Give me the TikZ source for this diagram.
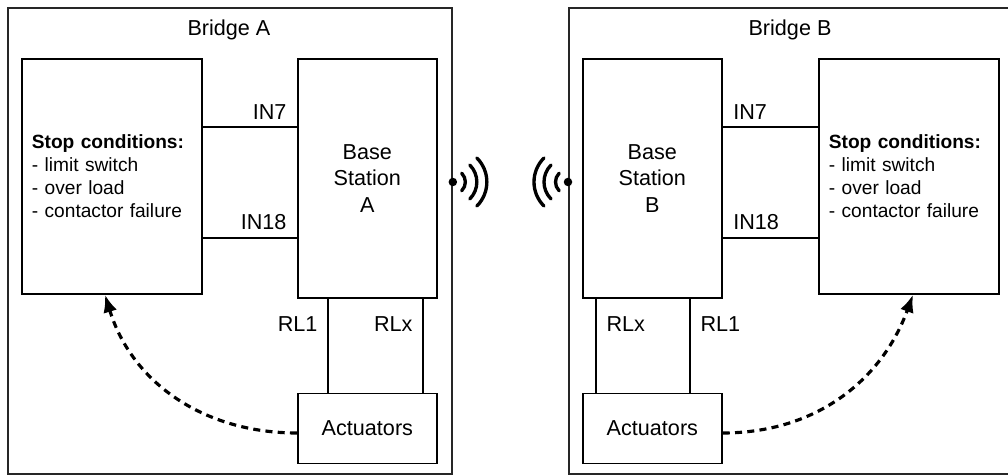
\documentclass[tikz,border=0pt]{standalone}
\usepackage{fontspec}
\setmainfont{Liberation Sans}
\usetikzlibrary{positioning, arrows.meta}
\newcommand{\StopFont}{\fontsize{10.9}{13}\selectfont}
\newcommand{\StopList}{\textbf{Stop conditions:}\\- limit switch\\- over load\\- contactor failure}

\begin{document}
\begin{tikzpicture}[x=0.02cm, y=-0.02cm, font=\fontsize{12.3}{15}\selectfont,
  bridge/.style={draw=black!85, line width=1.1pt, minimum width=8.88cm, minimum height=9.32cm, anchor=north west},
  box/.style={draw, line width=1pt},
  station/.style={box, minimum width=2.78cm, minimum height=4.78cm, align=center, anchor=north west},
  stops/.style={box, minimum width=3.6cm, minimum height=4.7cm, text width=3.2cm, inner xsep=0.2cm, align=left, font=\StopFont, anchor=north west},
  act/.style={box, minimum width=2.78cm, minimum height=1.4cm},
  wire/.style={line width=1pt},
  tag/.style={inner xsep=5.5pt, inner ysep=4pt},
  dot/.style={circle, fill, inner sep=0pt, minimum size=0.17cm},
  wave/.style={line width=1.9pt, line cap=round},
  signal/.style={line width=1.8pt, dash pattern=on 4pt off 3pt, -{Latex[length=10pt, width=8pt]}},
  node distance=1.88cm]
  \useasboundingbox (0,0) rectangle (1008,475);
  \clip (0,0) rectangle (1008,475);

  % rows shared by both bridges
  \coordinate (yIn7) at (0,127);
  \coordinate (yIn18) at (0,238);
  \coordinate (yAnt) at (0,182);
  \coordinate (yDash) at (0,433);

  % bridge A
  \node[bridge] (bridgeA) at (7,7) {};
  \node[anchor=base] (titleA) at (229,36) {Bridge A};
  \node[stops] (stopA) at (21,58) {\StopList};
  \node[station] (baseA) at (297,58) {Base\\Station\\A};
  \node[act, below=of baseA] (actA) {Actuators};

  \draw[wire] (stopA.east |- yIn7) -- node[tag, above left, pos=1] {IN7} (baseA.west |- yIn7);
  \draw[wire] (stopA.east |- yIn18) -- node[tag, above left, pos=1] {IN18} (baseA.west |- yIn18);

  \coordinate (xRL1A) at (328,0);
  \coordinate (xRLxA) at (423,0);
  \draw[wire] (baseA.south -| xRL1A) -- node[tag, left, pos=0.27] {RL1} (actA.north -| xRL1A);
  \draw[wire] (baseA.south -| xRLxA) -- node[tag, left, pos=0.27] {RLx} (actA.north -| xRLxA);

  \coordinate (xTipA) at (105,0);
  \draw[signal] (actA.west |- yDash) to[out=180, in=-73] (stopA.south -| xTipA);

  \node[dot] (antA) at (bridgeA.east |- yAnt) {};
  \foreach \rad in {0.25, 0.48, 0.68}
    \draw[wave] ([shift={(-45:\rad cm)}]antA.center) arc[start angle=-45, end angle=45, radius=\rad cm];

  % bridge B
  \node[bridge] (bridgeB) at (568,7) {};
  \node[anchor=base] (titleB) at (790,36) {Bridge B};
  \node[station] (baseB) at (582,58) {Base\\Station\\B};
  \node[stops] (stopB) at (818,58) {\StopList};
  \node[act, below=of baseB] (actB) {Actuators};

  \draw[wire] (baseB.east |- yIn7) -- node[tag, above right, pos=0] {IN7} (stopB.west |- yIn7);
  \draw[wire] (baseB.east |- yIn18) -- node[tag, above right, pos=0] {IN18} (stopB.west |- yIn18);

  \coordinate (xRLxB) at (596,0);
  \coordinate (xRL1B) at (690,0);
  \draw[wire] (baseB.south -| xRLxB) -- node[tag, right, pos=0.27] {RLx} (actB.north -| xRLxB);
  \draw[wire] (baseB.south -| xRL1B) -- node[tag, right, pos=0.27] {RL1} (actB.north -| xRL1B);

  \coordinate (xTipB) at (913,0);
  \draw[signal] (actB.east |- yDash) to[out=0, in=-110] (stopB.south -| xTipB);

  \node[dot] (antB) at (bridgeB.west |- yAnt) {};
  \foreach \rad in {0.25, 0.48, 0.68}
    \draw[wave] ([shift={(135:\rad cm)}]antB.center) arc[start angle=135, end angle=225, radius=\rad cm];
\end{tikzpicture}
\end{document}
